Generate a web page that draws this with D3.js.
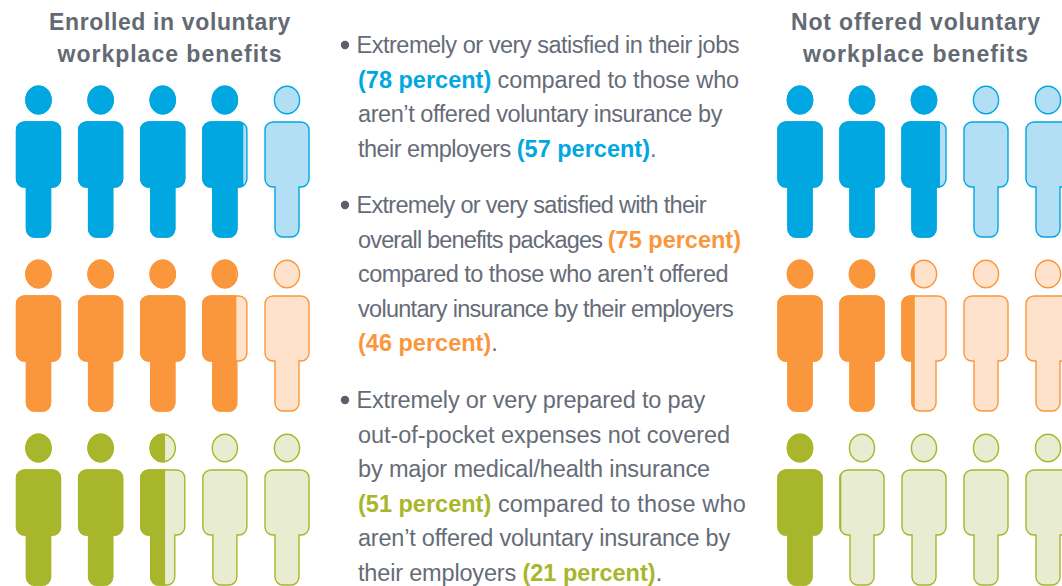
<!DOCTYPE html>
<html lang="en">
<head>
    <meta charset="UTF-8">
    <title>Voluntary workplace benefits</title>
    <style>
        body { margin: 0; background: #fff; }
        text { font-family: "Liberation Sans", Arimo, sans-serif; }
    </style>
</head>
<body>
    <div id="d3-container"></div>

    <script src="https://cdn.jsdelivr.net/npm/d3@7"></script>

    <script>
        const groups = ["Enrolled in voluntary|workplace benefits", "Not offered voluntary|workplace benefits"];
        const measures = ["jobs", "benefits", "prepared"];
        const enrolled = [78, 75, 51];
        const notOffered = [57, 46, 21];
        const darkColors = ["#00a7e1", "#fa963c", "#a8b62b"];
        const lightColors = ["#b3dff5", "#ffe2cb", "#e8ecd0"];

        // {0} = enrolled value, {1} = not offered value
        const bullets = [
            ["Extremely or very satisfied in their jobs", "{0} compared to those who", "aren\u2019t offered voluntary insurance by", "their employers {1}."],
            ["Extremely or very satisfied with their", "overall benefits packages {0}", "compared to those who aren\u2019t offered", "voluntary insurance by their employers", "{1}."],
            ["Extremely or very prepared to pay", "out-of-pocket expenses not covered", "by major medical/health insurance", "{0} compared to those who", "aren\u2019t offered voluntary insurance by", "their employers {1}."]
        ];

        const width = 1062, height = 586;

        // the reference font is narrower in some places, so lines get fitted to these
        const headingWidths = [[242, 225], [250, 226]];
        const lineEnds = [
            [739, 739, 722, 656],
            [706, 741, 728, 733, 494],
            [705, 730, 710, 746, 730, 662]
        ];

        const svg = d3.select("#d3-container")
            .append("svg")
            .attr("width", width)
            .attr("height", height)
            .style("display", "block");

        // five figures per row, each one stands for 20 percent
        const peopleScale = d3.scaleLinear().domain([0, 100]).range([0, 5]);
        const rowY = d3.scalePoint().domain(measures).range([78, 426]);
        const groupX = [
            d3.scaleLinear().domain([0, 4]).range([38.5, 287]),
            d3.scaleLinear().domain([0, 4]).range([800, 1048])
        ];

        function personPath() {
            const hw = 22, lw = 12, t = 44, b = 109, e = 159, r = 8;
            const p = d3.path();
            p.moveTo(-hw + r, t);
            p.lineTo(hw - r, t);
            p.arcTo(hw, t, hw, t + r, r);
            p.lineTo(hw, b - r);
            p.arcTo(hw, b, hw - r, b, r);
            p.lineTo(lw, b);
            p.lineTo(lw, e - r);
            p.arcTo(lw, e, lw - r, e, r);
            p.lineTo(-lw + r, e);
            p.arcTo(-lw, e, -lw, e - r, r);
            p.lineTo(-lw, b);
            p.lineTo(-hw + r, b);
            p.arcTo(-hw, b, -hw, b - r, r);
            p.lineTo(-hw, t + r);
            p.arcTo(-hw, t, -hw + r, t, r);
            p.closePath();
            return p.toString();
        }

        function drawShape(g, fill, stroke) {
            g.append("ellipse")
                .attr("cy", 22).attr("rx", 12.6).attr("ry", 13.8)
                .attr("fill", fill).attr("stroke", stroke).attr("stroke-width", 1.4);
            g.append("path")
                .attr("d", personPath())
                .attr("fill", fill).attr("stroke", stroke).attr("stroke-width", 1.4);
        }

        const defs = svg.append("defs");
        [enrolled, notOffered].forEach((values, gi) => {
            values.forEach((v, ri) => {
                const n = peopleScale(v);
                d3.range(5).forEach(i => {
                    const share = Math.max(0, Math.min(1, n - i));
                    const g = svg.append("g")
                        .attr("transform", `translate(${groupX[gi](i)},${rowY(measures[ri])})`);
                    drawShape(g, lightColors[ri], darkColors[ri]);
                    if (share > 0) {
                        const id = `clip-${gi}-${ri}-${i}`;
                        defs.append("clipPath").attr("id", id)
                            .append("rect")
                            .attr("x", -23).attr("y", 0)
                            .attr("width", 46 * share).attr("height", 165);
                        const top = g.append("g").attr("clip-path", `url(#${id})`);
                        drawShape(top, darkColors[ri], darkColors[ri]);
                    }
                });
            });
        });

        // spread the difference over the plain characters of a line
        function fitSpacing(text, target) {
            const plain = text.selectAll("tspan.plain");
            const chars = d3.sum(plain.nodes(), n => n.textContent.length);
            const diff = target - text.node().getComputedTextLength();
            plain.attr("letter-spacing", diff / chars);
        }

        // headings
        const headingX = [170, 916];
        groups.forEach((label, gi) => {
            label.split("|").forEach((line, li) => {
                const text = svg.append("text")
                    .attr("x", headingX[gi])
                    .attr("y", 30 + li * 32)
                    .attr("text-anchor", "middle")
                    .attr("font-size", 23)
                    .attr("font-weight", 700)
                    .attr("fill", "#636a73");
                text.append("tspan").attr("class", "plain").text(line);
                fitSpacing(text, headingWidths[gi][li]);
            });
        });

        // bullet text
        const firstBaseline = [53, 213, 408];
        const lineStep = 34.55;
        bullets.forEach((lines, bi) => {
            svg.append("circle")
                .attr("cx", 345).attr("cy", firstBaseline[bi] - 8)
                .attr("r", 4.2).attr("fill", "#5a606b");
            lines.forEach((line, li) => {
                const x = li === 0 ? 356.5 : 358;
                const text = svg.append("text")
                    .attr("x", x)
                    .attr("y", firstBaseline[bi] + li * lineStep)
                    .attr("font-size", 23.5)
                    .attr("fill", "#666c77");
                line.split(/(\{[01]\})/).filter(s => s).forEach(part => {
                    if (part === "{0}" || part === "{1}") {
                        const v = part === "{0}" ? enrolled[bi] : notOffered[bi];
                        text.append("tspan")
                            .attr("font-weight", 700)
                            .attr("fill", darkColors[bi])
                            .text(`(${v} percent)`);
                    } else {
                        text.append("tspan").attr("class", "plain").text(part);
                    }
                });
                fitSpacing(text, lineEnds[bi][li] - x);
            });
        });
    </script>
</body>
</html>
